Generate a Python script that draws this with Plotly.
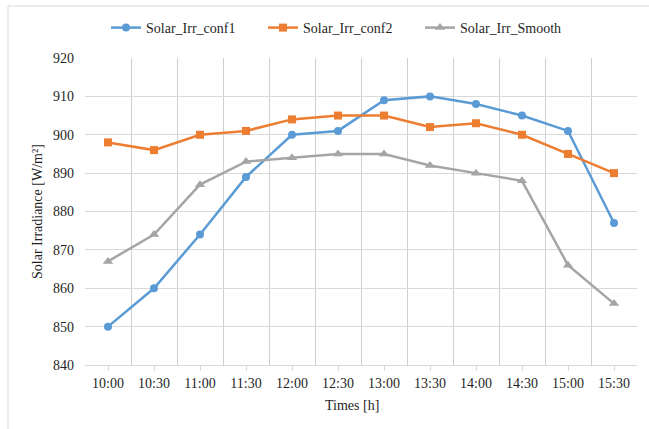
import plotly.graph_objects as go

# Half-hour time slots on the x axis
times = ["10:00", "10:30", "11:00", "11:30", "12:00", "12:30",
         "13:00", "13:30", "14:00", "14:30", "15:00", "15:30"]

# Solar irradiance readings [W/m²]
solar_irr_conf1 = [850, 860, 874, 889, 900, 901, 909, 910, 908, 905, 901, 877]
solar_irr_conf2 = [898, 896, 900, 901, 904, 905, 905, 902, 903, 900, 895, 890]
solar_irr_smooth = [867, 874, 887, 893, 894, 895, 895, 892, 890, 888, 866, 856]

y_ticks = [840, 850, 860, 870, 880, 890, 900, 910, 920]

W, H = 649, 429
L, R, T, B = 85, 12, 58, 64
pw, ph = W - L - R, H - T - B

FONT = "Liberation Serif"
TXT = "#1F1F1F"
GRID = "#D9D9D9"

xs = list(range(len(times)))

series = [
    ("Solar_Irr_conf1", solar_irr_conf1, "#5B9BD5", "circle", 8),
    ("Solar_Irr_conf2", solar_irr_conf2, "#ED7D31", "square", 8),
    ("Solar_Irr_Smooth", solar_irr_smooth, "#A5A5A5", "triangle-up", 9),
]

fig = go.Figure()
for name, vals, color, sym, size in series:
    fig.add_trace(go.Scatter(
        x=xs, y=vals, name=name, mode="lines+markers",
        line=dict(color=color, width=2.5),
        marker=dict(symbol=sym, size=size, color=color, line=dict(width=0)),
    ))

def px_x(p):
    return (p - L) / pw

def px_y(p):
    return (H - B - p) / ph

# Chart-area frame (left and top edges)
fig.add_shape(type="line", xref="paper", yref="paper",
              x0=px_x(8), x1=px_x(8), y0=px_y(6), y1=px_y(440),
              line=dict(color=GRID, width=1))
fig.add_shape(type="line", xref="paper", yref="paper",
              x0=px_x(8), x1=px_x(660), y0=px_y(6), y1=px_y(6),
              line=dict(color=GRID, width=1))

# Axis titles
fig.add_annotation(text="Solar Irradiance [W/m²]", xref="paper", yref="paper",
                   x=px_x(37), y=px_y(212), textangle=-90, showarrow=False,
                   xanchor="center", yanchor="middle",
                   font=dict(family=FONT, size=14, color=TXT))
fig.add_annotation(text="Times [h]", xref="paper", yref="paper",
                   x=px_x(352), y=px_y(405), showarrow=False,
                   xanchor="center", yanchor="middle",
                   font=dict(family=FONT, size=14, color=TXT))

fig.update_layout(
    width=W, height=H,
    margin=dict(l=L, r=R, t=T, b=B, pad=0, autoexpand=False),
    paper_bgcolor="white", plot_bgcolor="white",
    font=dict(family=FONT, size=14, color=TXT),
    showlegend=True,
    legend=dict(orientation="h", x=px_x(106), y=px_y(28),
                xanchor="left", yanchor="middle",
                entrywidth=112, entrywidthmode="pixels",
                itemwidth=30, font=dict(family=FONT, size=14, color=TXT),
                bgcolor="rgba(0,0,0,0)", tracegroupgap=0),
    xaxis=dict(
        range=[-0.5, len(times) - 0.5],
        tickmode="array", tickvals=xs, ticktext=times,
        showgrid=False, zeroline=False,
        showline=True, linecolor=GRID, linewidth=1,
        ticks="outside", ticklen=5, tickcolor=GRID, tickwidth=1,
        minor=dict(tickmode="array",
                   tickvals=[i - 0.5 for i in range(len(times) + 1)],
                   showgrid=True, gridcolor="#CFCFCF", gridwidth=1, ticks=""),
        tickfont=dict(family=FONT, size=14, color=TXT),
        fixedrange=True,
    ),
    yaxis=dict(
        range=[840, 920],
        tickmode="array", tickvals=y_ticks,
        showgrid=True, gridcolor=GRID, gridwidth=1,
        zeroline=False, showline=False, ticks="",
        ticklabelstandoff=10,
        tickfont=dict(family=FONT, size=14, color=TXT),
        fixedrange=True,
    ),
)

fig.write_html("out.html")
